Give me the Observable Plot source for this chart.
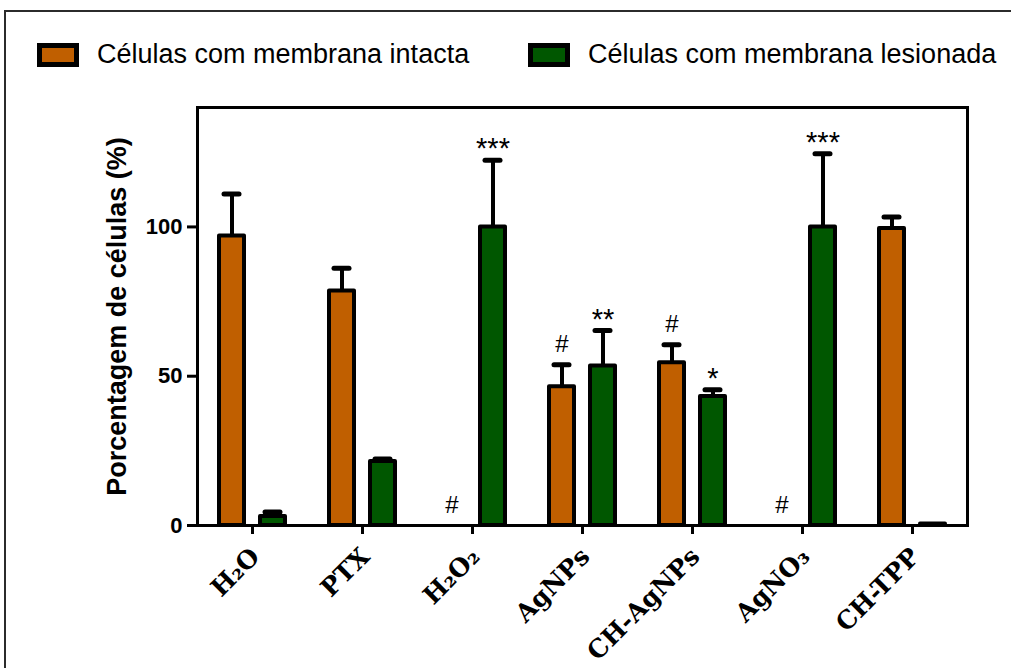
<!DOCTYPE html>
<html>
<head>
<meta charset="utf-8">
<script src="https://cdn.jsdelivr.net/npm/d3@7"></script>
<script src="https://cdn.jsdelivr.net/npm/@observablehq/plot@0.6"></script>
<style>
  html, body { margin: 0; padding: 0; background: #fff; }
  body { width: 1011px; height: 668px; overflow: hidden; position: relative; font-family: "Liberation Sans", Arial, sans-serif; }
  #border { position: absolute; left: 4px; top: 10px; width: 1100px; height: 800px; border: 2px solid #2b2b2b; box-sizing: border-box; }
  #legend { position: absolute; left: 0; top: 0; width: 1011px; height: 88px; }
  .item { position: absolute; top: 39px; display: flex; align-items: center; font-size: 27px; color: #000; white-space: nowrap; }
  .sw { width: 42px; height: 24px; border: 5px solid #000; box-sizing: border-box; margin-right: 18px; }
  #chart { position: absolute; left: 0; top: 88px; }
  #chart svg g[aria-label="y-axis label"] text { font-size: 27px; }
</style>
</head>
<body>
<div id="border"></div>
<div id="legend"></div>
<div id="chart"></div>
<script>
// ---- data ----
const categories = ["H2O", "PTX", "H2O2", "AgNPs", "CH-AgNPs", "AgNO3", "CH-TPP"];
const tickLabels = ["H₂O", "PTX", "H₂O₂", "AgNPs", "CH-AgNPs", "AgNO₃", "CH-TPP"];
const seriesNames = ["Células com membrana intacta", "Células com membrana lesionada"];
const seriesColors = ["#C05F00", "#005700"];
const intactValues = [97, 78.5, 0, 46.5, 54.5, 0, 99.5];
const intactUpper = [111, 86.2, 0, 53.8, 60.5, 0, 103.3];
const intactMarks = ["", "", "#", "#", "#", "#", ""];
const lesionValues = [3, 21.4, 100, 53.4, 43.2, 100, 0.5];
const lesionUpper = [4.5, 22.3, 122.3, 65.3, 45.5, 124.5, 0.5];
const lesionMarks = ["", "", "***", "**", "*", "***", ""];
const yTicks = [0, 50, 100];
const yLabel = "Porcentagem de células (%)";

// ---- legend ----
const legend = document.getElementById("legend");
const legendLeft = [37, 528];
seriesNames.forEach((name, i) => {
  const it = document.createElement("div");
  it.className = "item";
  it.style.left = legendLeft[i] + "px";
  const sw = document.createElement("div");
  sw.className = "sw";
  sw.style.background = seriesColors[i];
  const tx = document.createElement("span");
  tx.textContent = name;
  it.appendChild(sw); it.appendChild(tx);
  legend.appendChild(it);
});

// ---- tables ----
const intactRows = categories.map((c, i) => ({cat: c, v: intactValues[i], hi: intactUpper[i], lab: intactMarks[i]}));
const lesionRows = categories.map((c, i) => ({cat: c, v: lesionValues[i], hi: lesionUpper[i], lab: lesionMarks[i]}));
const labelOf = new Map(categories.map((c, i) => [c, tickLabels[i]]));

const off = 20.5;
const barStyle = {stroke: "#000", strokeWidth: 4, strokeLinejoin: "round"};

const chart = Plot.plot({
  width: 1011,
  height: 580,
  marginTop: 19,
  marginBottom: 143,
  marginLeft: 197,
  marginRight: 44,
  style: {background: "transparent"},
  x: {type: "band", domain: categories, padding: 0},
  y: {domain: [0, 140]},
  marks: [
    // error bars
    Plot.ruleX(intactRows.filter(d => d.hi > d.v), {x: "cat", y1: "v", y2: "hi", dx: -off, stroke: "#000", strokeWidth: 4}),
    Plot.ruleX(lesionRows.filter(d => d.hi > d.v), {x: "cat", y1: "v", y2: "hi", dx: off, stroke: "#000", strokeWidth: 4}),
    Plot.tickY(intactRows.filter(d => d.hi > d.v), {x: "cat", y: "hi", insetLeft: 27, insetRight: 68, stroke: "#000", strokeWidth: 5, strokeLinecap: "round"}),
    Plot.tickY(lesionRows.filter(d => d.hi > d.v), {x: "cat", y: "hi", insetLeft: 68, insetRight: 27, stroke: "#000", strokeWidth: 5, strokeLinecap: "round"}),
    // bars
    Plot.barY(intactRows.filter(d => d.v > 0), {x: "cat", y: "v", fill: seriesColors[0], insetLeft: 22, insetRight: 63, ...barStyle}),
    Plot.barY(lesionRows.filter(d => d.v > 0), {x: "cat", y: "v", fill: seriesColors[1], insetLeft: 63, insetRight: 22, ...barStyle}),
    // frame and axes
    Plot.frame({stroke: "#000", strokeWidth: 3}),
    Plot.axisY({
      ticks: yTicks, tickSize: 10, tickPadding: 5, strokeWidth: 3,
      fontSize: 22, fontWeight: "bold", fontFamily: "Liberation Sans, Arial, sans-serif",
      label: yLabel, labelAnchor: "center", labelArrow: "none", labelOffset: 91
    }),
    // x tick lines
    Plot.axisX({tickSize: 9, strokeWidth: 3, tickFormat: () => "", label: null}),
    // x tick labels (rotated)
    Plot.axisX({
      tickSize: 0, tickRotate: -45, tickPadding: 27, dx: 3,
      fontSize: 25, fontWeight: "bold", fontFamily: "DejaVu Serif, serif",
      tickFormat: d => labelOf.get(d), label: null
    }),
    // significance annotations
    Plot.text(intactRows.filter(d => d.lab), {x: "cat", y: "hi", text: "lab", dx: -off, dy: -13, lineAnchor: "bottom", fontSize: 24, fontFamily: "Liberation Sans, Arial, sans-serif", fill: "#000"}),
    Plot.text(lesionRows.filter(d => d.lab), {x: "cat", y: "hi", text: "lab", dx: off, dy: -2, lineAnchor: "bottom", fontSize: 29, fontFamily: "Liberation Sans, Arial, sans-serif", fill: "#000"})
  ]
});
document.getElementById("chart").appendChild(chart);
</script>
</body>
</html>
